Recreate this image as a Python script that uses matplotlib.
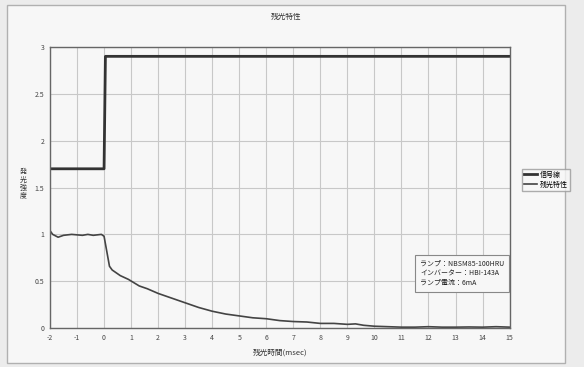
import matplotlib.pyplot as plt
from matplotlib.patches import Rectangle

plt.rcParams['font.family'] = ['Noto Sans CJK JP', 'DejaVu Sans']
plt.rcParams['axes.unicode_minus'] = False

# signal line (step at t=0)
sig_t = [-2, 0, 0.05, 15]
sig_v = [1.7, 1.7, 2.9, 2.9]

# afterglow curve
glow_t = [-2, -1.9, -1.7, -1.5, -1.2, -0.8, -0.6, -0.4, -0.1, 0, 0.1, 0.2, 0.3,
          0.6, 0.9, 1.3, 1.6, 2.0, 2.4, 3.0, 3.5, 4.0, 4.5, 5.0, 5.5, 6.0, 6.5,
          7.0, 7.5, 8.0, 8.5, 9.0, 9.3, 9.6, 10.0, 10.5, 11, 11.5, 12, 12.5, 13,
          13.5, 14, 14.5, 15]
glow_v = [1.04, 1.0, 0.97, 0.99, 1.0, 0.99, 1.0, 0.99, 1.0, 0.98, 0.82, 0.66, 0.62,
          0.56, 0.52, 0.45, 0.42, 0.37, 0.33, 0.27, 0.22, 0.18, 0.15, 0.13, 0.11, 0.10, 0.08,
          0.07, 0.065, 0.05, 0.05, 0.04, 0.045, 0.03, 0.02, 0.015, 0.01, 0.01, 0.015, 0.01, 0.01,
          0.012, 0.01, 0.015, 0.01]

xticks = list(range(-2, 16))
yticks = [0, 0.5, 1, 1.5, 2, 2.5, 3]
ytick_labels = ['0', '0.5', '1', '1.5', '2', '2.5', '3']

fig = plt.figure(figsize=(5.84, 3.67), dpi=100, facecolor='#ececec')
fig.patches.append(Rectangle((0.012, 0.012), 0.955, 0.975, transform=fig.transFigure,
                             facecolor='#f7f7f7', edgecolor='#b0b0b0', lw=1, zorder=-10))
ax = fig.add_axes([0.0856, 0.106, 0.787, 0.766])
ax.set_facecolor('#f7f7f7')

ax.plot(sig_t, sig_v, color='#333333', lw=2.0, label='信号線')
ax.plot(glow_t, glow_v, color='#444444', lw=1.2, label='残光特性')

ax.set_xlim(-2, 15)
ax.set_ylim(0, 3)
ax.set_xticks(xticks)
ax.set_yticks(yticks)
ax.set_yticklabels(ytick_labels)
ax.tick_params(labelsize=5, length=0, pad=4, colors='#444444')
ax.grid(True, color='#c8c8c8', lw=0.8)
for s in ax.spines.values():
    s.set_color('#666666')
    s.set_linewidth(1.0)

fig.text(0.49, 0.953, '残光特性', fontsize=5.5, ha='center', va='center', color='#333333')
ax.set_xlabel('残光時間(msec)', fontsize=5.5, color='#333333', labelpad=5)
fig.text(0.04, 0.5, '発\n光\n強\n度', fontsize=5, ha='center', va='center',
         linespacing=1.0, color='#333333')

leg = fig.legend(loc='center left', bbox_to_anchor=(0.888, 0.51), fontsize=5,
                 frameon=True, fancybox=False, edgecolor='#999999', handlelength=1.8,
                 handletextpad=0.4, borderpad=0.3, labelspacing=0.3)
leg.get_frame().set_facecolor('#f7f7f7')

ax.text(0.805, 0.195, 'ランプ：NBSM85-100HRU\nインバーター：HBI-143A\nランプ電流：6mA',
        transform=ax.transAxes, fontsize=5, va='center', ha='left', linespacing=1.3,
        color='#222222',
        bbox=dict(boxstyle='square,pad=0.7', facecolor='#f7f7f7', edgecolor='#888888', lw=0.8))

fig.savefig('out.png', dpi=100, facecolor=fig.get_facecolor())
